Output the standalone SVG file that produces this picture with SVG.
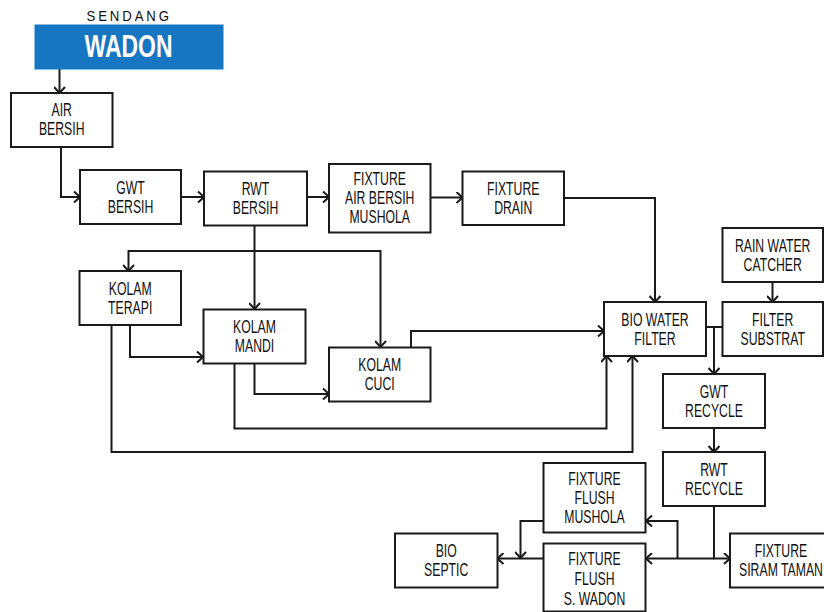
<svg xmlns="http://www.w3.org/2000/svg" width="824" height="612" viewBox="0 0 824 612">
<defs>
<style>
.box{fill:#fff;stroke:#1a1a1a;stroke-width:2}
.t{font-family:"Liberation Sans",Arial,sans-serif;font-size:17.5px;fill:#111;text-anchor:middle}
.c{fill:none;stroke:#1a1a1a;stroke-width:2}
.a{marker-end:url(#ah)}
</style>
<marker id="ah" viewBox="0 0 12 12" refX="11" refY="6" markerWidth="12" markerHeight="12" markerUnits="userSpaceOnUse" orient="auto">
<path d="M5,0.5 L11,6 L5,11.5" fill="none" stroke="#1a1a1a" stroke-width="2"/>
</marker>
</defs>
<rect width="824" height="612" fill="#fff"/>

<g id="connectors">
<path class="c a" d="M59.5,69 V93"/>
<path class="c a" d="M61,147 V197 H80"/>
<path class="c a" d="M181,197 H204"/>
<path class="c a" d="M307,197 H329"/>
<path class="c a" d="M431,197.5 H462.5"/>
<path class="c a" d="M564,198 H655 V302"/>
<path class="c a" d="M254.5,225 V309"/>
<path class="c a" d="M254.5,251 H128.5 V271"/>
<path class="c a" d="M254.5,251 H380.5 V347"/>
<path class="c a" d="M130,325 V357 H203"/>
<path class="c a" d="M111.5,325 V452 H632.5 V356"/>
<path class="c a" d="M254.5,363 V394 H329"/>
<path class="c a" d="M234.5,363 V428.5 H606.5 V356"/>
<path class="c a" d="M411,347 V331 H604"/>
<path class="c a" d="M772.5,282 V302"/>
<path class="c" d="M706,327 H722.5"/>
<path class="c a" d="M714,327 V374"/>
<path class="c a" d="M714,428 V452"/>
<path class="c a" d="M714,506 V558.5 H730"/>
<path class="c a" d="M714,558.5 H646"/>
<path class="c a" d="M677.5,558.5 V521 H646"/>
<path class="c a" d="M543,521 H520.5 V558"/>
<path class="c a" d="M543,558.5 H497.5"/>
</g>

<g id="sendang-wadon">
<text transform="translate(86.5,20.7) scale(0.85,1)" style="font-family:'Liberation Sans',Arial,sans-serif;font-size:15.5px;fill:#111;letter-spacing:3.4px">SENDANG</text>
<rect x="34.5" y="24.5" width="189" height="45" fill="#1676c1"/>
<text transform="translate(128.5,57.3) scale(0.74,1)" style="font-family:'Liberation Sans',Arial,sans-serif;font-size:31px;font-weight:bold;fill:#fff;text-anchor:middle">WADON</text>
</g>

<g id="air-bersih">
<rect class="box" x="11" y="93" width="101.5" height="54"/>
<text class="t" transform="translate(61.7,115.5) scale(0.7,1)">AIR</text>
<text class="t" transform="translate(61.7,134.5) scale(0.7,1)">BERSIH</text>
</g>

<g id="gwt-bersih">
<rect class="box" x="80" y="170" width="101" height="54"/>
<text class="t" transform="translate(130.5,193.5) scale(0.7,1)">GWT</text>
<text class="t" transform="translate(130.5,212.5) scale(0.7,1)">BERSIH</text>
</g>

<g id="rwt-bersih">
<rect class="box" x="204" y="171.5" width="103" height="54"/>
<text class="t" transform="translate(255.5,195) scale(0.7,1)">RWT</text>
<text class="t" transform="translate(255.5,214) scale(0.7,1)">BERSIH</text>
</g>

<g id="fixture-air-bersih-mushola">
<rect class="box" x="329" y="164" width="101.5" height="68.5"/>
<text class="t" transform="translate(379.7,185) scale(0.7,1)">FIXTURE</text>
<text class="t" transform="translate(379.7,204) scale(0.7,1)">AIR BERSIH</text>
<text class="t" transform="translate(379.7,223) scale(0.7,1)">MUSHOLA</text>
</g>

<g id="fixture-drain">
<rect class="box" x="462.5" y="171.5" width="101.5" height="53.5"/>
<text class="t" transform="translate(513.2,194.5) scale(0.7,1)">FIXTURE</text>
<text class="t" transform="translate(513.2,213.5) scale(0.7,1)">DRAIN</text>
</g>

<g id="kolam-terapi">
<rect class="box" x="79.5" y="271" width="101.5" height="54"/>
<text class="t" transform="translate(130.2,294.5) scale(0.7,1)">KOLAM</text>
<text class="t" transform="translate(130.2,313.5) scale(0.7,1)">TERAPI</text>
</g>

<g id="kolam-mandi">
<rect class="box" x="203.5" y="309.5" width="102" height="54"/>
<text class="t" transform="translate(254.5,332.5) scale(0.7,1)">KOLAM</text>
<text class="t" transform="translate(254.5,351.5) scale(0.7,1)">MANDI</text>
</g>

<g id="kolam-cuci">
<rect class="box" x="329" y="347.5" width="101.5" height="54"/>
<text class="t" transform="translate(379.7,370.5) scale(0.7,1)">KOLAM</text>
<text class="t" transform="translate(379.7,389.5) scale(0.7,1)">CUCI</text>
</g>

<g id="bio-water-filter">
<rect class="box" x="604" y="302" width="102" height="54"/>
<text class="t" transform="translate(655,325.5) scale(0.7,1)">BIO WATER</text>
<text class="t" transform="translate(655,344.5) scale(0.7,1)">FILTER</text>
</g>

<g id="rain-water-catcher">
<rect class="box" x="722.5" y="228" width="100.5" height="54"/>
<text class="t" transform="translate(772.7,251.5) scale(0.7,1)">RAIN WATER</text>
<text class="t" transform="translate(772.7,270.5) scale(0.7,1)">CATCHER</text>
</g>

<g id="filter-substrat">
<rect class="box" x="722.5" y="302" width="100.5" height="54"/>
<text class="t" transform="translate(772.7,325.5) scale(0.7,1)">FILTER</text>
<text class="t" transform="translate(772.7,344.5) scale(0.7,1)">SUBSTRAT</text>
</g>

<g id="gwt-recycle">
<rect class="box" x="663" y="374" width="102" height="54"/>
<text class="t" transform="translate(714,397.5) scale(0.7,1)">GWT</text>
<text class="t" transform="translate(714,416.5) scale(0.7,1)">RECYCLE</text>
</g>

<g id="rwt-recycle">
<rect class="box" x="663" y="452" width="102" height="54"/>
<text class="t" transform="translate(714,475.5) scale(0.7,1)">RWT</text>
<text class="t" transform="translate(714,494.5) scale(0.7,1)">RECYCLE</text>
</g>

<g id="fixture-flush-mushola">
<rect class="box" x="543.5" y="463" width="102" height="69.5"/>
<text class="t" transform="translate(594.5,485) scale(0.7,1)">FIXTURE</text>
<text class="t" transform="translate(594.5,504) scale(0.7,1)">FLUSH</text>
<text class="t" transform="translate(594.5,523) scale(0.7,1)">MUSHOLA</text>
</g>

<g id="fixture-flush-s-wadon">
<rect class="box" x="543.5" y="543.5" width="102" height="68"/>
<text class="t" transform="translate(594.5,565) scale(0.7,1)">FIXTURE</text>
<text class="t" transform="translate(594.5,584.5) scale(0.7,1)">FLUSH</text>
<text class="t" transform="translate(594.5,604.5) scale(0.7,1)">S. WADON</text>
</g>

<g id="bio-septic">
<rect class="box" x="395" y="533.5" width="102.5" height="54"/>
<text class="t" transform="translate(446.2,556.5) scale(0.7,1)">BIO</text>
<text class="t" transform="translate(446.2,575.5) scale(0.7,1)">SEPTIC</text>
</g>

<g id="fixture-siram-taman">
<rect class="box" x="730" y="533.5" width="104" height="54"/>
<text class="t" transform="translate(781,556.5) scale(0.7,1)">FIXTURE</text>
<text class="t" transform="translate(781,575.5) scale(0.7,1)">SIRAM TAMAN</text>
</g>
</svg>
